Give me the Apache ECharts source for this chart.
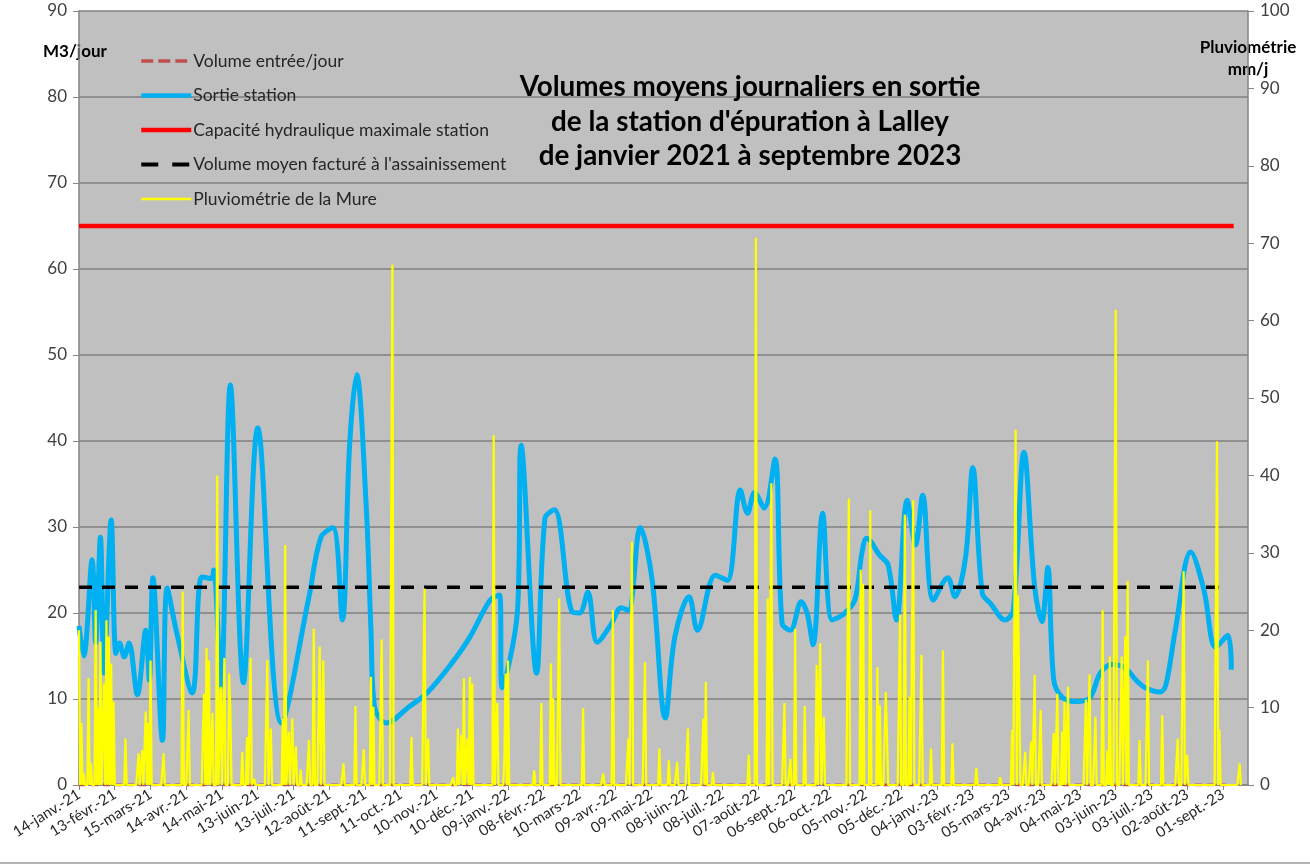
<!DOCTYPE html>
<html>
<head>
<meta charset="utf-8">
<script src="https://cdn.jsdelivr.net/npm/echarts@6/dist/echarts.min.js"></script>
<style>
html,body{margin:0;padding:0;background:#fff;}
#chart{width:1310px;height:866px;}
</style>
</head>
<body>
<div id="chart"></div>
<script>
// ---- DATA ----
// days counted from 14-janv.-21 (index 0), one category per day
const dayCount = 982;
const tickLabels = ['14-janv.-21','13-févr.-21','15-mars-21','14-avr.-21','14-mai-21','13-juin-21','13-juil.-21','12-août-21','11-sept.-21','11-oct.-21','10-nov.-21','10-déc.-21','09-janv.-22','08-févr.-22','10-mars-22','09-avr.-22','09-mai-22','08-juin-22','08-juil.-22','07-août-22','06-sept.-22','06-oct.-22','05-nov.-22','05-déc.-22','04-janv.-23','03-févr.-23','05-mars-23','04-avr.-23','04-mai-23','03-juin-23','03-juil.-23','02-août-23','01-sept.-23'];
const tickEvery = 30;

// Sortie station (m3/jour): [day index, value]
const sortieStation = [[0,18.5],[4,15],[11,26.2],[14,16.5],[18,28.8],[21,13],[27,30.8],[31,15.3],[34,16.5],[38,14.9],[42,16.5],[49,10.5],[56,18],[59,12.2],[62,24.1],[70,5.2],[74,22.9],[82,17.7],[95,10.7],[103,24.2],[111,24],[113,25],[119,11.4],[127,46.5],[138,11.9],[150,41.5],[170,7.2],[193,21.9],[203,28.8],[213,29.9],[221,19.2],[227,39.3],[233,47.7],[241,32.5],[245,18],[248,9.1],[258,7.2],[277,9.1],[292,10.7],[313,14.2],[328,17.2],[345,21.5],[353,22.1],[355,11.3],[368,20.3],[371,39.5],[384,13],[391,31],[399,32],[414,20.1],[420,20],[427,22.4],[435,16.6],[447,18.8],[455,20.6],[461,20.3],[471,29.9],[481,23.8],[492,7.8],[500,17.2],[512,21.9],[519,18],[534,24.4],[544,23.8],[555,34.3],[561,31.6],[567,34],[575,32.2],[584,37.9],[590,18.8],[597,18],[606,21.3],[611,20],[616,16.3],[624,31.6],[632,19.2],[641,19.8],[651,21.5],[657,27],[661,28.7],[672,26.7],[679,25.6],[686,19.2],[695,33.1],[702,27.9],[708,33.7],[717,21.5],[729,24.1],[735,21.9],[744,26.5],[750,36.9],[758,22.3],[765,21.1],[777,19.2],[784,20.3],[793,38.7],[802,23],[808,19],[813,25.3],[818,12.2],[825,10.2],[836,9.7],[848,10.1],[857,13],[867,14],[878,13.6],[887,12.2],[895,11.3],[907,10.8],[912,11.6],[920,18],[933,27.1],[944,22.7],[954,16],[964,17.4],[967,13.4]];

// Pluviométrie de la Mure (mm/j): rainy days [day index, mm]; other recorded days are 0
const pluieJours = [[0,20],[2,8],[4,1.5],[8,13.8],[10,2.8],[14,22.6],[16,10],[18,18.5],[21,13.1],[23,21.3],[25,19.2],[27,15.7],[29,10.8],[39,6],[50,4.1],[53,4.5],[56,9.5],[58,8],[60,16.1],[71,4.1],[87,25],[92,9.7],[104,7.1],[105,11.8],[107,17.7],[109,16.1],[112,9.3],[116,40],[119,12.7],[122,16.4],[126,14.4],[127,9.7],[137,4.3],[141,6.2],[144,16.4],[147,0.8],[158,16.1],[161,7.3],[171,8.6],[173,31],[176,6.9],[179,8.6],[182,5],[186,2],[193,5.8],[197,20.2],[202,17.9],[205,16.1],[222,2.8],[232,10.2],[239,4.6],[245,14],[247,10.1],[254,18.8],[263,67.2],[279,6.2],[290,25.4],[293,6],[314,1],[318,7.3],[321,6.5],[323,13.8],[326,6],[328,14],[330,13.1],[348,45.2],[351,10.6],[357,3.4],[358,14.4],[360,16.1],[382,1.9],[388,10.6],[396,15.7],[398,11.2],[403,24.1],[423,9.9],[440,1.5],[448,22.6],[461,6],[464,31.4],[475,15.9],[487,4.7],[495,3.2],[502,3],[511,7.3],[524,8.6],[526,13.3],[532,1.7],[562,3.9],[568,70.7],[578,24.1],[581,39],[592,10.6],[597,3.4],[601,20.2],[609,10.2],[619,15.5],[621,10.8],[622,18.3],[625,8.8],[646,37],[656,27.8],[658,26],[664,35.5],[670,15.2],[672,10.3],[677,12],[678,6.7],[689,22],[693,34.9],[697,11.4],[700,36.8],[707,16.8],[715,4.7],[725,17.4],[733,5.4],[753,2.2],[773,1],[783,7.1],[786,45.9],[788,24.5],[789,24.3],[794,4.3],[799,5.6],[802,14.2],[807,9.7],[818,6.7],[821,11.8],[825,6.9],[827,10.8],[830,12.7],[845,11],[848,14.3],[853,8.8],[859,22.6],[863,4.5],[865,16.6],[870,61.4],[875,16.6],[878,19.2],[880,26.4],[890,5.8],[897,16.1],[909,9],[922,6],[927,27.6],[930,3.9],[955,44.4],[957,7.1],[974,2.8]];
const pluieDernierJour = 975;

// constant series: [first day, last day, value]
const volumeEntree = [0, 966, 0];
const capaciteMax = [0, 969, 65];
const volumeFacture = [0, 960, 23];

// ---- BUILD ----
const cats = Array.from({length: dayCount}, (_, i) => String(i));
function sparse(pairs){
  const a = new Array(dayCount).fill(null);
  pairs.forEach(p => { a[p[0]] = p[1]; });
  return a;
}
function constant(c){
  const a = new Array(dayCount).fill(null);
  a[c[0]] = c[2]; a[c[1]] = c[2];
  return a;
}
const rain = new Array(dayCount).fill(null);
for (let i = 0; i <= pluieDernierJour; i++) rain[i] = 0;
pluieJours.forEach(p => { rain[p[0]] = p[1]; });

const FONT = 'Lato, "Open Sans", sans-serif';
const chart = echarts.init(document.getElementById('chart'));
chart.setOption({
  animation: false,
  backgroundColor: '#ffffff',
  grid: {left: 79, right: 62, top: 11, bottom: 81, show: true, backgroundColor: '#C0C0C0', borderWidth: 0},
  legend: {
    orient: 'vertical', left: 134, top: 47, itemWidth: 50, itemHeight: 14, itemGap: 16.5,
    itemStyle: {opacity: 0},
    textStyle: {fontFamily: FONT, fontSize: 17.5, color: '#262626', lineHeight: 14, padding: [0,0,0,-3]},
    data: [
      {name: 'Volume entrée/jour', lineStyle: {width: 3.5, type: [12, 5]}},
      {name: 'Sortie station', lineStyle: {width: 4.5}},
      {name: 'Capacité hydraulique maximale station', lineStyle: {width: 4.5}},
      {name: "Volume moyen facturé à l'assainissement", lineStyle: {width: 4, type: [17, 14]}},
      {name: 'Pluviométrie de la Mure', lineStyle: {width: 2.5}}
    ]
  },
  xAxis: {
    type: 'category', data: cats, boundaryGap: false,
    axisLine: {lineStyle: {color: '#868686', width: 1.5}},
    axisTick: {show: true, length: 5, interval: (i) => i % tickEvery === 0, lineStyle: {color: '#868686'}},
    axisLabel: {interval: (i) => i % tickEvery === 0, rotate: 32, margin: 8,
      fontFamily: FONT, fontSize: 15, color: '#262626',
      formatter: (v, i) => (i % tickEvery === 0 ? tickLabels[i / tickEvery] : '')},
    splitLine: {show: false}
  },
  yAxis: [
    {type: 'value', min: 0, max: 90, interval: 10,
     axisLine: {show: true, lineStyle: {color: '#868686', width: 1.5}},
     axisTick: {show: true, length: 6, lineStyle: {color: '#868686'}},
     axisLabel: {fontFamily: FONT, fontSize: 17, color: '#404040', margin: 12},
     splitLine: {show: true, lineStyle: {color: '#808080', width: 1.5}}},
    {type: 'value', min: 0, max: 100, interval: 10,
     axisLine: {show: true, lineStyle: {color: '#868686', width: 1.5}},
     axisTick: {show: true, length: 6, lineStyle: {color: '#868686'}},
     axisLabel: {fontFamily: FONT, fontSize: 17, color: '#404040', margin: 12},
     splitLine: {show: false}}
  ],
  graphic: [
    {type: 'text', left: 43, top: 43, style: {text: 'M3/jour', font: 'bold 17px ' + FONT, fill: '#000'}},
    {type: 'text', x: 1248, y: 37, style: {text: 'Pluviométrie\nmm/j', font: 'bold 17px ' + FONT, fill: '#000', align: 'center', lineHeight: 22}},
    {type: 'text', x: 750, y: 70, z: 100, style: {text: 'Volumes moyens journaliers en sortie\nde la station d\'épuration à Lalley\nde janvier 2021 à septembre 2023',
      font: 'bold 27.8px ' + FONT, fill: '#000', align: 'center', lineHeight: 34.5}},
    {type: 'line', shape: {x1: 0, y1: 863, x2: 1310, y2: 863}, style: {stroke: '#9a9a9a', lineWidth: 1.5}}
  ],
  series: [
    {name: 'Volume entrée/jour', type: 'line', data: constant(volumeEntree), connectNulls: true, symbol: 'none',
     lineStyle: {color: '#C0504D', width: 3, type: [7, 5]}, itemStyle: {color: '#C0504D'}, z: 2},
    {name: 'Sortie station', type: 'line', data: sparse(sortieStation), connectNulls: true, smooth: 0.35, symbol: 'none',
     lineStyle: {color: '#00B0F0', width: 5}, itemStyle: {color: '#00B0F0'}, z: 3},
    {name: 'Capacité hydraulique maximale station', type: 'line', data: constant(capaciteMax), connectNulls: true, symbol: 'none',
     lineStyle: {color: '#FF0000', width: 4.5}, itemStyle: {color: '#FF0000'}, z: 4},
    {name: "Volume moyen facturé à l'assainissement", type: 'line', data: constant(volumeFacture), connectNulls: true, symbol: 'none',
     lineStyle: {color: '#000000', width: 3.5, type: [13, 10]}, itemStyle: {color: '#000000'}, z: 5},
    {name: 'Pluviométrie de la Mure', type: 'line', yAxisIndex: 1, data: rain, symbol: 'none',
     lineStyle: {color: '#FFFF00', width: 2.2}, itemStyle: {color: '#FFFF00'}, z: 6}
  ]
});
</script>
</body>
</html>
